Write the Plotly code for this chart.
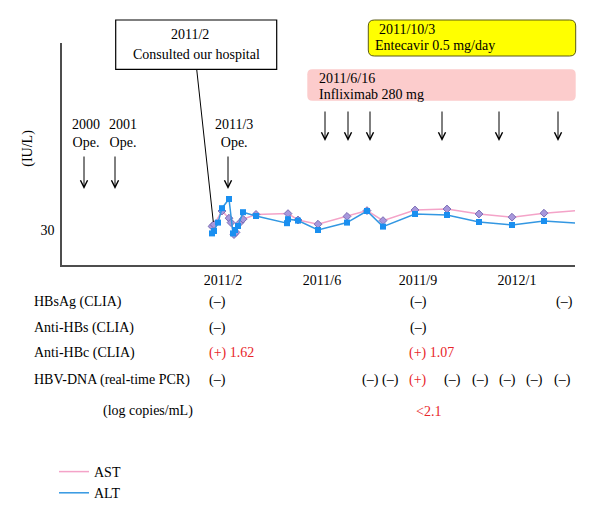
import plotly.graph_objects as go

# schematic time axis: position along the x axis (0 = y axis), as drawn in the figure
tick_pos = [161, 260, 356, 455]
tick_text = ['2011/2', '2011/6', '2011/9', '2012/1']

alt_x = [150, 152, 156, 160, 167, 171, 173, 176, 181, 194, 225, 226, 236, 256,
         285, 305, 321, 353, 385, 417, 450, 482, 515]
alt_y = [28.3, 29.5, 33.7, 40.9, 45.5, 28.3, 30.0, 32.0, 38.9, 37.0, 33.4, 35.4,
         34.7, 30.0, 33.7, 39.5, 31.7, 38.0, 37.5, 34.0, 32.5, 34.5, 33.4]

ast_x = [150, 152, 160, 167, 169, 172, 174, 178, 181, 194, 226, 236, 256, 285,
         305, 321, 353, 385, 417, 450, 482, 515]
ast_y = [31.8, 32.7, 39.5, 35.9, 33.7, 27.7, 28.8, 33.7, 35.4, 37.8, 38.2, 35.0,
         32.9, 36.8, 39.7, 34.7, 40.0, 40.5, 38.0, 36.4, 38.4, 39.7]

# events
ope_x = [22, 53, 166]
ope_text = ['2000<br>Ope.', '2001<br>Ope.', '2011/3<br>Ope.']
ope_text_x = [23.5, 60.5, 171.5]
ifx_x = [263, 286, 308, 380, 437, 496]

# serology table
row_labels = ['HBsAg (CLIA)', 'Anti-HBs (CLIA)', 'Anti-HBc (CLIA)',
              'HBV-DNA (real-time PCR)', '(log copies/mL)']
hbsag_x = [155.5, 356, 502.5]
hbsag_val = ['(–)', '(–)', '(–)']
antihbs_x = [155.5, 356]
antihbs_val = ['(–)', '(–)']
antihbc_x = [169.5, 369]
antihbc_val = ['(+) 1.62', '(+) 1.07']
hbvdna_x = [155.5, 308, 328, 355.5, 390, 418, 445, 472.5, 500]
hbvdna_val = ['(–)', '(–)', '(–)', '(+)', '(–)', '(–)', '(–)', '(–)', '(–)']
logcp_x = [366]
logcp_val = ['<2.1']

FONT = 'Liberation Serif'
RED = '#e8262a'
L, T, R, B = 62, 43, 575, 265
W, H = R - L, B - T


def fx(px):
    return (px - L) / W


def fy(py):
    return (B - py) / H


def rounded(x0, y0, x1, y1, r):
    def p(x, y):
        return '{:.5f},{:.5f}'.format(fx(x), fy(y))
    return ('M' + p(x0 + r, y0) + 'L' + p(x1 - r, y0) + 'Q' + p(x1, y0) + ' ' + p(x1, y0 + r) +
            'L' + p(x1, y1 - r) + 'Q' + p(x1, y1) + ' ' + p(x1 - r, y1) +
            'L' + p(x0 + r, y1) + 'Q' + p(x0, y1) + ' ' + p(x0, y1 - r) +
            'L' + p(x0, y0 + r) + 'Q' + p(x0, y0) + ' ' + p(x0 + r, y0) + 'Z')


def label(px, py, text, anchor='center', **kw):
    return dict(x=fx(px), y=fy(py), xref='paper', yref='paper', text=text, xanchor=anchor,
                yanchor='middle', showarrow=False, font=dict(size=14), **kw)


fig = go.Figure()
fig.add_trace(go.Scatter(x=ast_x, y=ast_y, mode='lines+markers', name='AST', showlegend=False,
                         line=dict(color='#f4a3c8', width=1.5), cliponaxis=False,
                         marker=dict(symbol='diamond', size=6, color='#a898dc',
                                     line=dict(color='#7a6cb4', width=1))))
fig.add_trace(go.Scatter(x=alt_x, y=alt_y, mode='lines+markers', name='ALT', showlegend=False,
                         line=dict(color='#3397e2', width=1.5), cliponaxis=False,
                         marker=dict(symbol='square', size=6, color='#1a8ff0')))
# legend entries (lines only)
fig.add_trace(go.Scatter(x=[None], y=[None], mode='lines', name='AST',
                         line=dict(color='#f4a3c8', width=1.5)))
fig.add_trace(go.Scatter(x=[None], y=[None], mode='lines', name='ALT',
                         line=dict(color='#3397e2', width=1.5)))

ann = []
shapes = []

# y axis title
ann.append(label(27.7, 148, '(IU/L)', textangle=-90))

# operation arrows
for tx, t in zip(ope_text_x, ope_text):
    ann.append(dict(x=tx, y=fy(133), xref='x', yref='paper', text=t, showarrow=False,
                    xanchor='center', yanchor='middle', font=dict(size=14)))
for x in ope_x:
    ann.append(dict(x=x, y=fy(189), xref='x', yref='paper', text='', showarrow=True,
                    ax=0, ay=-34, arrowhead=5, arrowsize=1.4, arrowwidth=1, arrowcolor='black'))
for x in ifx_x:
    ann.append(dict(x=x, y=fy(141), xref='x', yref='paper', text='', showarrow=True,
                    ax=0, ay=-31, arrowhead=5, arrowsize=1.4, arrowwidth=1, arrowcolor='black'))

# consulted box
shapes.append(dict(type='rect', xref='paper', yref='paper', x0=fx(115.7), x1=fx(276.7),
                   y0=fy(69.3), y1=fy(20), line=dict(color='black', width=1.2), fillcolor='white'))
shapes.append(dict(type='line', xref='paper', yref='paper', x0=fx(196.7), y0=fy(69.3),
                   x1=fx(213.3), y1=fy(222), line=dict(color='black', width=1)))
ann.append(label(190, 34.3, '2011/2'))
ann.append(label(196, 54, 'Consulted our hospital'))

# infliximab box
shapes.append(dict(type='path', xref='paper', yref='paper', path=rounded(307.3, 69.3, 575.7, 100.7, 5),
                   fillcolor='#fccccc', line=dict(width=0), layer='below'))
ann.append(label(316.7, 78.3, '2011/6/16', 'left'))
ann.append(label(316.7, 94, 'Infliximab 280 mg', 'left'))

# entecavir box
shapes.append(dict(type='path', xref='paper', yref='paper', path=rounded(368.3, 20, 575.7, 56, 6),
                   fillcolor='#ffff00', line=dict(color='#5c5c14', width=1)))
ann.append(label(376.7, 30, '2011/10/3', 'left'))
ann.append(label(372.7, 45.7, 'Entecavir 0.5 mg/day', 'left'))

# table
row_py = [301.7, 327.7, 353.3, 380, 411]
row_px = [31.7, 31.7, 31.7, 31.7, 101]
for lab, px, py in zip(row_labels, row_px, row_py):
    ann.append(label(px, py, lab, 'left'))
cells = [(hbsag_x, hbsag_val), (antihbs_x, antihbs_val), (antihbc_x, antihbc_val),
         (hbvdna_x, hbvdna_val), (logcp_x, logcp_val)]
for (xs, vals), py in zip(cells, row_py):
    for x, v in zip(xs, vals):
        red = v.startswith('(+)') or v.startswith('<')
        ann.append(dict(x=x, y=fy(py), xref='x', yref='paper', text=v.replace('<', '&lt;'),
                        showarrow=False, xanchor='center', yanchor='middle',
                        font=dict(size=14, color=RED if red else 'black')))

fig.update_layout(
    width=600, height=507,
    margin=dict(l=L, r=600 - R, t=T, b=507 - B, autoexpand=False),
    paper_bgcolor='white', plot_bgcolor='white',
    font=dict(family=FONT, size=14, color='black'),
    xaxis=dict(range=[0, W], showgrid=False, zeroline=False, showline=True, linecolor='#4d4d4d',
               linewidth=1.5, tickvals=tick_pos, ticktext=tick_text, ticks='',
               ticklabelstandoff=1, tickfont=dict(size=14)),
    yaxis=dict(range=[30 - (B - 230) * 0.5, 30 + (230 - T) * 0.5], showgrid=False, zeroline=False,
               showline=True, linecolor='#4d4d4d', linewidth=1.5, tickvals=[30], ticks='',
               ticklabelstandoff=3, tickfont=dict(size=14)),
    legend=dict(x=fx(54), y=fy(456), xanchor='left', yanchor='top', font=dict(size=14),
                bgcolor='rgba(0,0,0,0)', tracegroupgap=0),
    annotations=ann,
    shapes=shapes,
)

# page body has a default 8px margin; drop it so the figure sits at the window corner
fig.write_html('out.html', config={'displayModeBar': False},
               post_script="document.body.style.margin='0';")
